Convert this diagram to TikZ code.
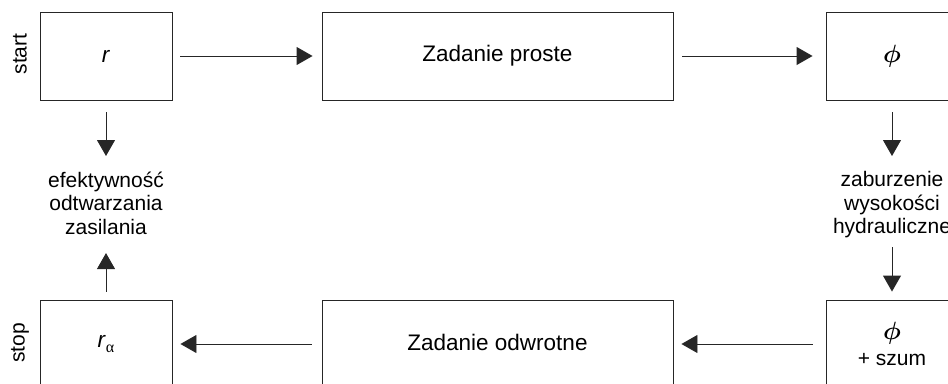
\documentclass[tikz,border=0pt]{standalone}
\usepackage{fontspec}
\setmainfont{Liberation Sans}
\newfontfamily\serifgreek{Liberation Serif}
\usetikzlibrary{arrows.meta}
\newcommand{\bigphi}{\scalebox{2.5}{\fontsize{10}{12}\selectfont\boldmath$\phi$}}
\begin{document}
\begin{tikzpicture}[x=1pt,y=-1pt,
  box/.style={draw=black!85, line width=0.9pt, minimum width=132pt, minimum height=88pt, inner sep=0pt, font=\fontsize{22.5}{25}\selectfont},
  widebox/.style={box, minimum width=351pt},
  lbl/.style={align=center, inner sep=0pt, anchor=north, font=\fontsize{21}{23.5}\selectfont},
  side/.style={rotate=90, inner sep=0pt, font=\fontsize{21}{24}\selectfont},
  arr/.style={line width=0.9pt, draw=black!85, -{Triangle[length=16pt,width=18pt]}}
]
\useasboundingbox (0,0) rectangle (948,383);
\clip (0,0) rectangle (948,383);
\node[box] (r) at (106,56) {\textit{r}};
\node[widebox] (zp) at (497.5,56) {Zadanie proste};
\node[box] (phi) at (892,56) {\bigphi};
\node[box] (ra) at (106,344) {\textit{r}\raisebox{-5pt}{\fontsize{16}{16}\selectfont\serifgreek α}};
\node[widebox] (zo) at (497.5,344) {\raisebox{4pt}{Zadanie odwrotne}};
\node[box, align=center, font=\fontsize{21}{24}\selectfont] (phis) at (892,344) {\bigphi\\[2pt]+ szum};
\node[side] (start) at (20,54) {start};
\node[side] (stop) at (20,343) {stop};
\node[lbl] (eff) at (106,171.5) {efektywność\\odtwarzania\\zasilania};
\node[lbl] (zab) at (892,171.5) {zaburzenie\\wysokości\\hydrauliczne};
\draw[arr, shorten <=8pt, shorten >=9pt] (r) -- (zp);
\draw[arr, shorten <=9pt, shorten >=13pt] (zp) -- (phi);
\draw[arr, shorten <=13pt, shorten >=8pt] (phis) -- (zo);
\draw[arr, shorten <=10pt, shorten >=8pt] (zo) -- (ra);
\draw[arr, shorten <=12pt, shorten >=15.5pt] (r.south) -- (eff.north);
\draw[arr, shorten <=12pt, shorten >=15.5pt] (phi.south) -- (zab.north);
\draw[arr, shorten <=9pt, shorten >=8pt] (zab.south) -- (phis.north);
\draw[arr, shorten <=8pt, shorten >=18.5pt] (ra.north) -- (eff.south);
\end{tikzpicture}
\end{document}
